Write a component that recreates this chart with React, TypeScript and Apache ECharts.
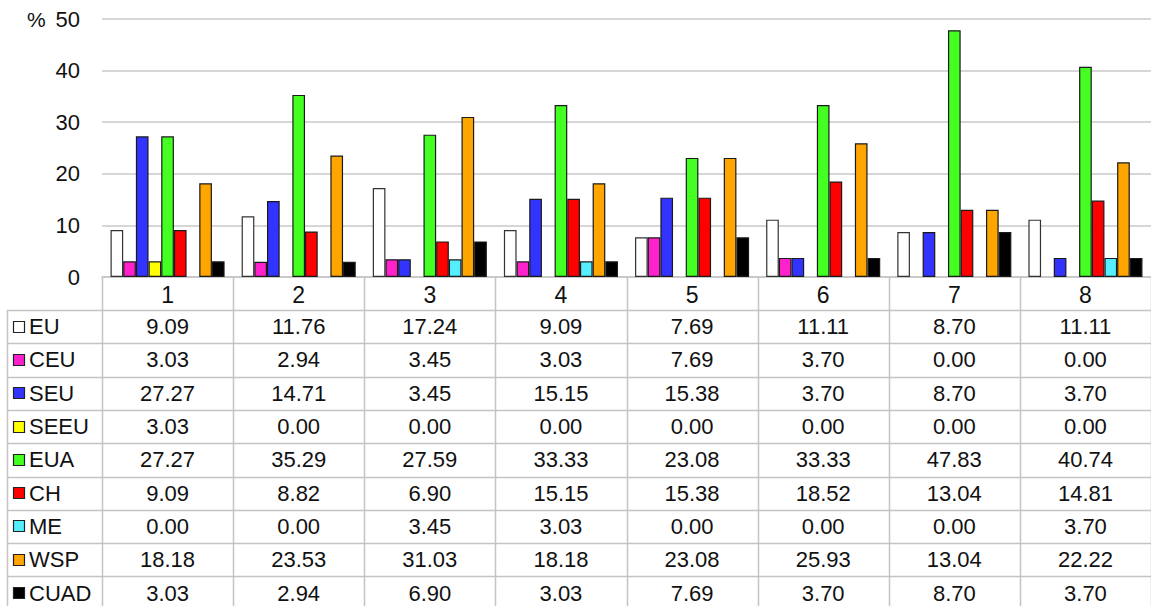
import React, { useEffect, useRef } from "react";
import * as echarts from "echarts";

const categories = ["1", "2", "3", "4", "5", "6", "7", "8"];
const seriesNames = ["EU", "CEU", "SEU", "SEEU", "EUA", "CH", "ME", "WSP", "CUAD"];
const EU = [9.09, 11.76, 17.24, 9.09, 7.69, 11.11, 8.7, 11.11];
const CEU = [3.03, 2.94, 3.45, 3.03, 7.69, 3.7, 0, 0];
const SEU = [27.27, 14.71, 3.45, 15.15, 15.38, 3.7, 8.7, 3.7];
const SEEU = [3.03, 0, 0, 0, 0, 0, 0, 0];
const EUA = [27.27, 35.29, 27.59, 33.33, 23.08, 33.33, 47.83, 40.74];
const CH = [9.09, 8.82, 6.9, 15.15, 15.38, 18.52, 13.04, 14.81];
const ME = [0, 0, 3.45, 3.03, 0, 0, 0, 3.7];
const WSP = [18.18, 23.53, 31.03, 18.18, 23.08, 25.93, 13.04, 22.22];
const CUAD = [3.03, 2.94, 6.9, 3.03, 7.69, 3.7, 8.7, 3.7];
const seriesValues = [EU, CEU, SEU, SEEU, EUA, CH, ME, WSP, CUAD];
const seriesColors = ["#ffffff", "#ff22cc", "#3333ff", "#ffff00", "#44ff22", "#ff0000", "#55eeff", "#ffa500", "#000000"];
const yMin = 0;
const yMax = 50;
const yInterval = 10;

const W = 1151;
const H = 606;
const FONT = "'Liberation Sans', Arial, Helvetica, sans-serif";

export default function App() {
  const ref = useRef<HTMLDivElement>(null);
  useEffect(() => {
    document.body.style.margin = "0";
    const chart = echarts.init(ref.current!, null, { renderer: "svg" });
    const gridLeft = 102;
    const gridTop = 19;
    const axisY = 277;
    const gridRight = 0;
    const cw = (W - gridLeft - gridRight) / categories.length;
    const headerBottom = 310;
    const rowH = 33.3;
    const tableLeft = 7;
    const border = "#c4c4c4";
    const graphics: any[] = [];
    graphics.push({
      type: "text",
      x: 27,
      y: gridTop,
      style: { text: "%", font: `21px ${FONT}`, fill: "#111", verticalAlign: "middle", align: "left" },
    });
    categories.forEach((c, i) => {
      graphics.push({
        type: "text",
        x: gridLeft + (i + 0.5) * cw,
        y: (axisY + headerBottom) / 2 + 1,
        style: { text: c, font: `23px ${FONT}`, fill: "#111", align: "center", verticalAlign: "middle" },
      });
    });
    for (let i = 0; i <= categories.length; i++) {
      const x = Math.round(gridLeft + i * cw) + 0.5;
      graphics.push({
        type: "line",
        shape: { x1: x, y1: axisY, x2: x, y2: H },
        style: { stroke: border, lineWidth: 1.5 },
      });
    }
    graphics.push({
      type: "line",
      shape: { x1: tableLeft + 0.5, y1: headerBottom, x2: tableLeft + 0.5, y2: H },
      style: { stroke: border, lineWidth: 1.5 },
    });
    for (let r = 0; r <= seriesNames.length; r++) {
      const y = Math.round(headerBottom + r * rowH) + 0.5;
      graphics.push({
        type: "line",
        shape: { x1: tableLeft, y1: y, x2: W, y2: y },
        style: { stroke: border, lineWidth: 1.5 },
      });
    }
    seriesNames.forEach((name, r) => {
      const cy = headerBottom + (r + 0.5) * rowH;
      graphics.push({
        type: "rect",
        shape: { x: 13.5, y: Math.round(cy - 6) + 0.5, width: 11, height: 11 },
        style: { fill: seriesColors[r], stroke: "#222", lineWidth: 1.2 },
      });
      graphics.push({
        type: "text",
        x: 29,
        y: cy,
        style: { text: name, font: `22px ${FONT}`, fill: "#111", align: "left", verticalAlign: "middle" },
      });
      seriesValues[r].forEach((v, i) => {
        graphics.push({
          type: "text",
          x: gridLeft + (i + 0.5) * cw,
          y: cy,
          style: { text: v.toFixed(2), font: `22px ${FONT}`, fill: "#111", align: "center", verticalAlign: "middle" },
        });
      });
    });

    chart.setOption({
      animation: false,
      backgroundColor: "#ffffff",
      textStyle: { fontFamily: FONT },
      grid: { left: gridLeft, right: gridRight, top: gridTop, bottom: H - axisY, containLabel: false },
      xAxis: {
        type: "category",
        data: categories,
        axisLine: { show: true, lineStyle: { color: border, width: 1.5 } },
        axisTick: { show: false },
        axisLabel: { show: false },
        splitLine: { show: false },
      },
      yAxis: {
        type: "value",
        min: yMin,
        max: yMax,
        interval: yInterval,
        axisLine: { show: false },
        axisTick: { show: false },
        axisLabel: { fontSize: 22, color: "#111", margin: 22, fontFamily: FONT },
        splitLine: { show: true, lineStyle: { color: "#c8c8c8", width: 1.5 } },
      },
      series: seriesNames.map((name, k) => ({
        name,
        type: "bar",
        data: seriesValues[k].map((v) => (v === 0 ? "-" : v)),
        barGap: "0%",
        barCategoryGap: "13%",
        itemStyle: { color: seriesColors[k], borderColor: k === 0 ? "#333" : "#1a1a1a", borderWidth: 1.2 },
      })),
      graphic: graphics,
    });
    return () => chart.dispose();
  }, []);
  return <div ref={ref} style={{ width: W, height: H, position: "absolute", left: 0, top: 0 }} />;
}
